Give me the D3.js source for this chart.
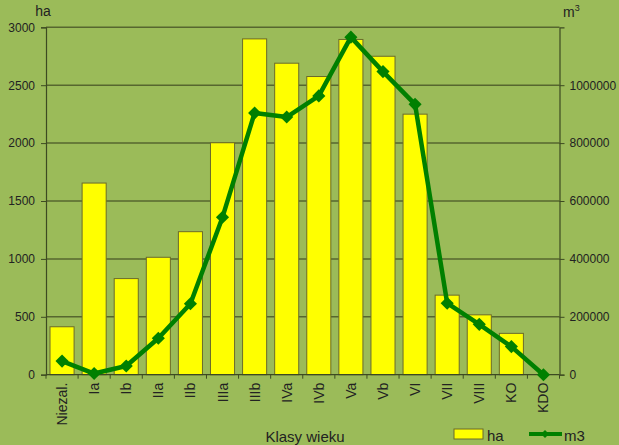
<!DOCTYPE html>
<html>
<head>
<meta charset="utf-8">
<script src="https://cdn.jsdelivr.net/npm/d3@7"></script>
<style>
  body { margin: 0; background: #9bbb59; }
  svg { display: block; font-family: "Liberation Sans", Arial, sans-serif; }
</style>
</head>
<body>
<script>
// chart data
var categories = ["Niezal.", "Ia", "Ib", "IIa", "IIb", "IIIa", "IIIb", "IVa", "IVb", "Va", "Vb", "VI", "VII", "VIII", "KO", "KDO"];
var haValues = [414, 1655, 830, 1014, 1235, 2003, 2900, 2690, 2575, 2895, 2750, 2250, 687, 517, 357, 0];
var m3Values = [47000, 4000, 30000, 126000, 245000, 544000, 904000, 890000, 963000, 1166000, 1047000, 934000, 247000, 174000, 97000, 0];
var haTicks = [0, 500, 1000, 1500, 2000, 2500, 3000];
var m3Ticks = [0, 200000, 400000, 600000, 800000, 1000000];

var width = 619, height = 445;
var plotLeft = 46, plotRight = 559.5, plotTop = 27.3, plotBottom = 374.7;

var svg = d3.select("body").append("svg")
    .attr("width", width)
    .attr("height", height);

var x = d3.scaleBand().domain(categories).range([plotLeft, plotRight]).paddingInner(0.25).paddingOuter(0.125);
var yL = d3.scaleLinear().domain([0, 3000]).range([plotBottom, plotTop]);
var yR = d3.scaleLinear().domain([0, 1200000]).range([plotBottom, plotTop]);

// gridlines
svg.append("g").selectAll("line")
    .data(haTicks.filter(function (d) { return d > 0; }))
    .enter().append("line")
    .attr("x1", plotLeft).attr("x2", plotRight)
    .attr("y1", function (d) { return yL(d); })
    .attr("y2", function (d) { return yL(d); })
    .attr("stroke", "#56662f")
    .attr("stroke-width", 1.5);

// bars
svg.append("g").selectAll("rect")
    .data(haValues)
    .enter().append("rect")
    .attr("x", function (d, i) { return x(categories[i]); })
    .attr("width", x.bandwidth())
    .attr("y", function (d) { return yL(d); })
    .attr("height", function (d) { return plotBottom - yL(d); })
    .attr("fill", "#ffff00")
    .attr("stroke", "#6b6b2a")
    .attr("stroke-width", 1);

// axes
var axisColor = "#3d4a22";
var leftAxis = svg.append("g")
    .attr("transform", "translate(" + plotLeft + ",0)")
    .call(d3.axisLeft(yL).tickValues(haTicks).tickFormat(d3.format("d")).tickSize(5).tickPadding(6));
var rightAxis = svg.append("g")
    .attr("transform", "translate(" + plotRight + ",0)")
    .call(d3.axisRight(yR).tickValues(m3Ticks).tickFormat(d3.format("d")).tickSize(5).tickPadding(5));
[leftAxis, rightAxis].forEach(function (a) {
    a.select(".domain").attr("stroke", axisColor).attr("stroke-width", 1.2);
    a.selectAll(".tick line").attr("stroke", axisColor);
    a.selectAll("text").attr("fill", "#222").style("font-size", "12px");
});

// x axis line + ticks between categories
var step = x.step();
var xg = svg.append("g");
xg.append("line")
    .attr("x1", plotLeft).attr("x2", plotRight)
    .attr("y1", plotBottom).attr("y2", plotBottom)
    .attr("stroke", axisColor).attr("stroke-width", 1.2);
xg.selectAll("line.tk")
    .data(d3.range(categories.length + 1))
    .enter().append("line")
    .attr("class", "tk")
    .attr("x1", function (i) { return plotLeft + i * step; })
    .attr("x2", function (i) { return plotLeft + i * step; })
    .attr("y1", plotBottom).attr("y2", plotBottom + 4)
    .attr("stroke", axisColor);
xg.selectAll("text")
    .data(categories)
    .enter().append("text")
    .attr("transform", function (d) {
        return "translate(" + (x(d) + x.bandwidth() / 2 + 5) + "," + (plotBottom + 8) + ") rotate(-90)";
    })
    .attr("text-anchor", "end")
    .attr("fill", "#222")
    .style("font-size", "14px")
    .text(function (d) { return d; });

// line series
var line = d3.line()
    .x(function (d, i) { return x(categories[i]) + x.bandwidth() / 2; })
    .y(function (d) { return yR(d); });
svg.append("path")
    .datum(m3Values)
    .attr("d", line)
    .attr("fill", "none")
    .attr("stroke", "#008000")
    .attr("stroke-width", 4.5)
    .attr("stroke-linejoin", "round");

var diamond = d3.symbol().type(d3.symbolDiamond2).size(110);
svg.append("g").selectAll("path")
    .data(m3Values)
    .enter().append("path")
    .attr("d", diamond)
    .attr("transform", function (d, i) {
        return "translate(" + (x(categories[i]) + x.bandwidth() / 2) + "," + yR(d) + ")";
    })
    .attr("fill", "#008000");

// axis titles
svg.append("text")
    .attr("x", 43).attr("y", 16)
    .attr("text-anchor", "middle")
    .attr("fill", "#222")
    .style("font-size", "14px")
    .text("ha");
var m3 = svg.append("text")
    .attr("x", 563).attr("y", 17)
    .attr("fill", "#222")
    .style("font-size", "14px");
m3.append("tspan").text("m");
m3.append("tspan").attr("dy", -6).style("font-size", "9px").text("3");

svg.append("text")
    .attr("x", 305).attr("y", 442)
    .attr("text-anchor", "middle")
    .attr("fill", "#222")
    .style("font-size", "15px")
    .text("Klasy wieku");

// legend
var legend = svg.append("g");
legend.append("rect")
    .attr("x", 454).attr("y", 429)
    .attr("width", 29).attr("height", 10)
    .attr("fill", "#ffff00")
    .attr("stroke", "#6b6b2a");
legend.append("text")
    .attr("x", 487).attr("y", 441)
    .attr("fill", "#222")
    .style("font-size", "15px")
    .text("ha");
legend.append("line")
    .attr("x1", 529).attr("x2", 562)
    .attr("y1", 434).attr("y2", 434)
    .attr("stroke", "#008000")
    .attr("stroke-width", 4);
legend.append("path")
    .attr("d", d3.symbol().type(d3.symbolDiamond2).size(40))
    .attr("transform", "translate(545,434)")
    .attr("fill", "#008000");
legend.append("text")
    .attr("x", 564).attr("y", 441)
    .attr("fill", "#222")
    .style("font-size", "15px")
    .text("m3");
</script>
</body>
</html>
